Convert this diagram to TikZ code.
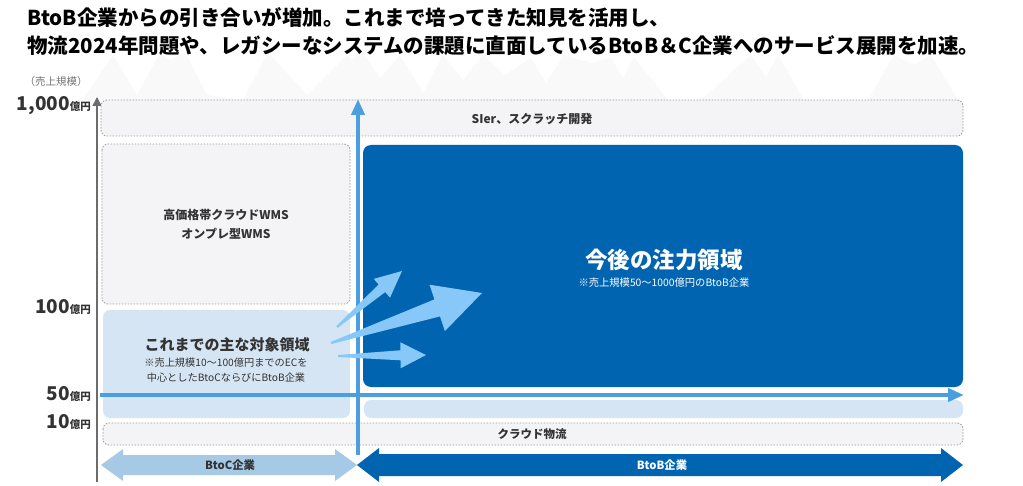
\documentclass[tikz,border=0pt]{standalone}
\usepackage{fontspec}
\setmainfont{Noto Sans CJK JP}
\usetikzlibrary{arrows.meta}
\definecolor{dblue}{HTML}{0064B1}
\definecolor{mblue}{HTML}{4B9FE1}
\definecolor{lblue}{HTML}{D5E5F3}
\definecolor{abl}{HTML}{88C8F9}
\definecolor{cblue}{HTML}{A6C9E6}
\definecolor{gbox}{HTML}{F4F4F6}
\definecolor{gdash}{HTML}{9C9C9C}
\definecolor{txt}{HTML}{333333}
\definecolor{mnt}{HTML}{F9F9FA}
\tikzset{
  gray box/.style={fill=gbox, draw=gdash, line width=0.8pt, dash pattern=on 1.6pt off 1.4pt, rounded corners=6pt},
  lbl/.style={text=txt, font=\bfseries\fontsize{12}{15}\selectfont, align=center},
  ylbl/.style={anchor=east, text=txt, inner sep=0pt},
}
\newcommand{\ylab}[1]{{\fontsize{19}{19}\selectfont\bfseries #1}{\fontsize{10.5}{10}\selectfont\bfseries 億円}}
\begin{document}
\begin{tikzpicture}[x=1pt,y=-1pt]
\useasboundingbox (0,0) rectangle (1023,486);
% faint mountains
\fill[mnt] (82,100) -- (113,55) -- (137,95) -- (160,53) -- (170,60) -- (185,52) -- (207,95) -- (243,100) -- (268,52) -- (307,95) -- (347,55) -- (352,60) -- (363,52) -- (380,78) -- (400,55) -- (423,93) -- (443,55) -- (463,80) -- (483,55) -- (505,75) -- (531,58) -- (546,83) -- (564,55) -- (591,63) -- (611,58) -- (623,78) -- (634,57) -- (668,100) -- cycle;
\fill[mnt] (701,100) -- (751,55) -- (766,77) -- (778,55) -- (804,100) -- cycle;
\fill[mnt] (868,100) -- (894,55) -- (914,65) -- (931,55) -- (958,100) -- cycle;

% title
\node[anchor=west, inner sep=0pt, font=\bfseries\fontsize{20.5}{24}\selectfont] (t1) at (27,18) {BtoB企業からの引き合いが増加。これまで培ってきた知見を活用し、};
\node[anchor=west, inner sep=0pt, font=\bfseries\fontsize{20.5}{24}\selectfont] (t2) at (27,46) {物流2024年問題や、レガシーなシステムの課題に直面しているBtoB＆C企業へのサービス展開を加速。};

% axis
\coordinate (ax0) at (97,482);
\coordinate (ax1) at (97,97);
\draw[-{Triangle[length=9pt,width=9pt]}, draw=gray!85!black, line width=1.5pt] (ax0) -- (ax1);
\node[text=gray!90!black, font=\fontsize{10.5}{12}\selectfont] (unit) at (56,82) {（売上規模）};
\node[ylbl] (y1000) at (91,106) {\ylab{1,000}};
\node[ylbl] (y100) at (91,307) {\ylab{100}};
\node[ylbl] (y50) at (91,394) {\ylab{50}};
\node[ylbl] (y10) at (91,422) {\ylab{10}};

% boxes
\draw[gray box] (101,100) rectangle (963,136);
\node[lbl] (sier) at (532,119) {SIer、スクラッチ開発};
\draw[gray box] (102,144) rectangle (350,304);
\node[lbl, font=\bfseries\fontsize{12}{19}\selectfont] (wms) at (226,224) {高価格帯クラウドWMS\\オンプレ型WMS};
\fill[lblue, rounded corners=7pt] (103,310) rectangle (350,418);
\node[text=txt, font=\bfseries\fontsize{15}{18}\selectfont] (cur) at (227,345) {これまでの主な対象領域};
\node[text=txt, font=\fontsize{10.2}{15.5}\selectfont, align=center] (cursub) at (226,370) {※売上規模10〜100億円までのECを\\中心としたBtoCならびにBtoB企業};
\fill[dblue, rounded corners=8pt] (363,145) rectangle (963,387);
\node[text=white, font=\bfseries\fontsize{22.5}{26}\selectfont] (fut) at (664,260) {今後の注力領域};
\node[text=white, font=\fontsize{10.3}{12}\selectfont] (futsub) at (664,283) {※売上規模50〜1000億円のBtoB企業};
\fill[lblue, rounded corners=7pt] (364,400) rectangle (963,418);
\draw[gray box] (103,423) rectangle (963,445);
\node[lbl, font=\bfseries\fontsize{11.5}{14}\selectfont] (cloud) at (532,434.5) {クラウド物流};

% blue axes
\coordinate (v0) at (358,455);
\coordinate (v1) at (358,99);
\coordinate (h0) at (100,395);
\coordinate (h1) at (964,395);
\draw[mblue, line width=4.5pt, -{Triangle[length=16pt,width=13pt]}] (v0) -- (v1);
\draw[mblue, line width=4.5pt, -{Triangle[length=16pt,width=13pt]}] (h0) -- (h1);

% fat arrows
\fill[abl] (337.6,327.8) -- (385.2,292.1) -- (390.0,297.7) -- (402,271) -- (373.8,278.9) -- (378.6,284.5) -- (336.4,326.2) -- cycle;
\fill[abl] (331.3,344.0) -- (440.0,316.4) -- (444.9,331.1) -- (482,293) -- (429.5,284.7) -- (434.4,299.4) -- (330.7,342.0) -- cycle;
\fill[abl] (338,357) -- (400.6,360.3) -- (400.6,368.3) -- (426,355) -- (400.4,342.3) -- (400.4,350.3) -- (338,355) -- cycle;

% bottom double arrows
\fill[cblue] (101,465) -- (123,449) -- (123,455) -- (335,455) -- (335,449) -- (357,465) -- (335,481) -- (335,475) -- (123,475) -- (123,481) -- cycle;
\node[text=txt, font=\bfseries\fontsize{11.3}{13}\selectfont] (btoc) at (230,465) {BtoC企業};
\fill[dblue] (357,465) -- (379,448) -- (379,454) -- (941,454) -- (941,448) -- (963,465) -- (941,482) -- (941,476) -- (379,476) -- (379,482) -- cycle;
\node[text=white, font=\bfseries\fontsize{11.3}{13}\selectfont] (btob) at (662,465) {BtoB企業};
\end{tikzpicture}
\end{document}
